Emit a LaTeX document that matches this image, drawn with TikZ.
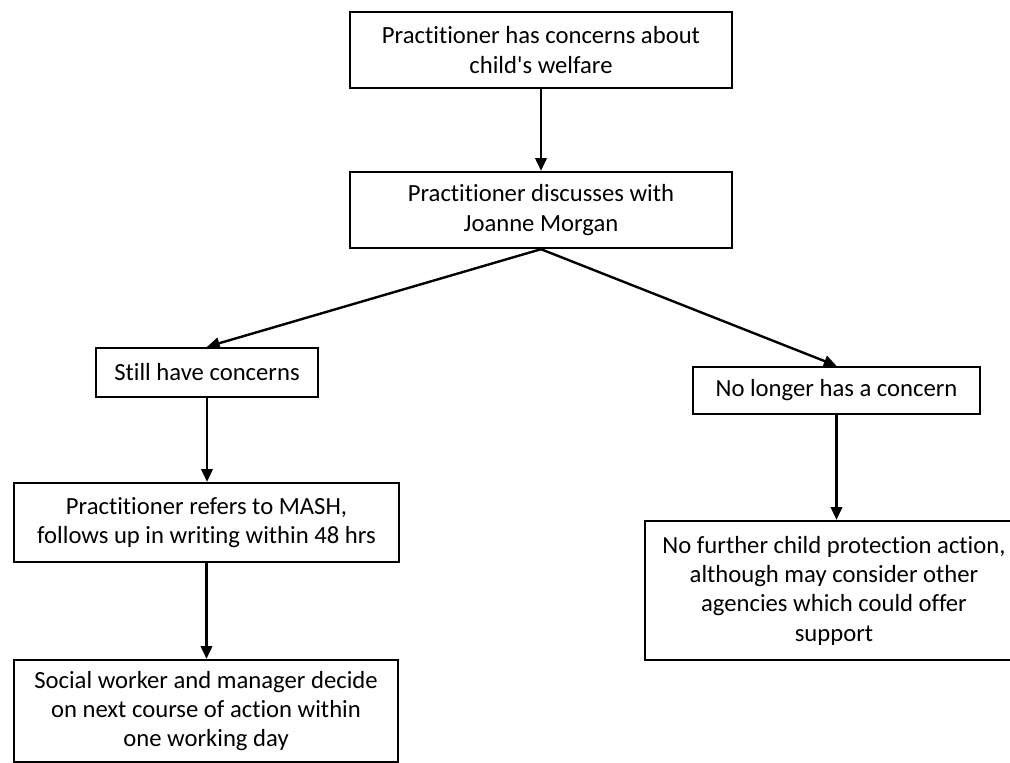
\documentclass[tikz,border=0pt]{standalone}
\usepackage{fontspec}
\setmainfont{Carlito}[Ligatures=NoCommon]
\usetikzlibrary{arrows.meta, positioning}

\begin{document}
\begin{tikzpicture}[x=0.75pt, y=-0.75pt,
    box/.style={draw, rectangle, line width=1.8pt, align=center, inner sep=2pt,
        font=\fontsize{18.5}{22}\selectfont},
    arr/.style={-{Triangle[length=9.5pt,width=8.5pt]}, line width=1.8pt}]
    \useasboundingbox (0,0) rectangle (1010,763);
    % 上の二つ
    \node[box, minimum width=286.5pt, minimum height=57pt] (concern) at (541,50) {Practitioner has concerns about\\child\textquotesingle s welfare};
    \node[box, minimum width=286.5pt, minimum height=57pt] (discuss) at (541,210) {Practitioner discusses with\\Joanne Morgan};

    % 左の枝
    \node[box, minimum width=166.5pt, minimum height=36.75pt] (still) at (207,372.5) {Still have concerns};
    \node[box, minimum width=288.75pt, minimum height=59.25pt] (mash) at (206.5,522.5) {Practitioner refers to MASH,\\follows up in writing within 48 hrs};
    \node[box, minimum width=288pt, minimum height=76.5pt] (social) at (206,711) {Social worker and manager decide\\on next course of action within\\one working day};

    % 右の枝
    \node[box, minimum width=215.25pt, minimum height=35.25pt] (nolonger) at (836.5,390.5) {No longer has a concern};
    \node[box, minimum width=283.5pt, minimum height=104.25pt] (nofurther) at (834,590.5) {No further child protection action,\\although may consider other\\agencies which could offer\\support};

    % 矢印
    \draw[arr] (concern) -- (discuss);
    \draw[arr] (discuss.south) -- (still.north);
    \draw[arr] (discuss.south) -- (nolonger.north);
    \draw[arr] (still.south) -- (still.south |- mash.north);
    \draw[arr] (mash.south) -- (mash.south |- social.north);
    \draw[arr] (nolonger.south) -- (nolonger.south |- nofurther.north);
\end{tikzpicture}
\end{document}
